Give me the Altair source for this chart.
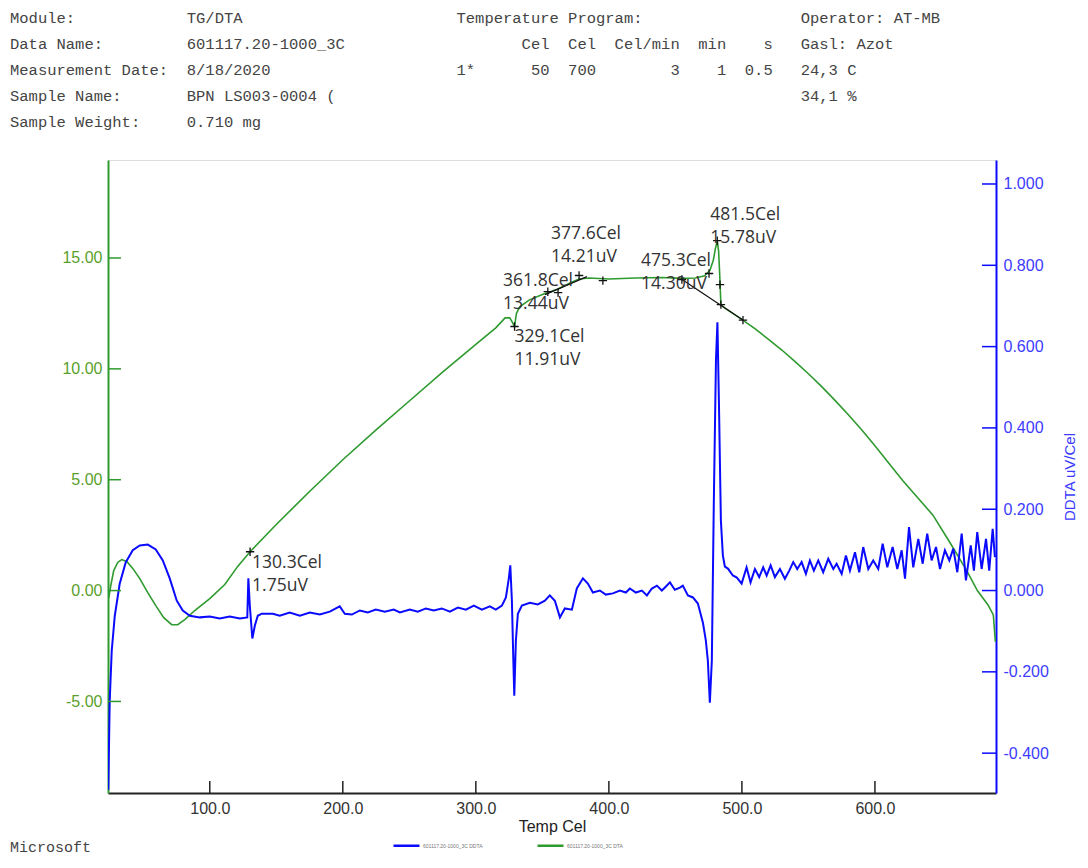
import altair as alt
import pandas as pd

# ---------------- data ----------------
T_DTA = [24.1, 25.6, 27.8, 30.8, 33.8, 37.6, 42.1, 47.4, 53.4, 59.4, 65.4, 71.4, 75.9, 81.2, 88.7,
         100.0, 111.3, 121.0, 130.3, 150, 175, 200, 225, 250, 275, 300, 315, 322, 325.5, 327.5,
         329.1, 330.5, 333, 340, 350, 361.8, 370, 377.6, 385, 400, 420, 440, 455, 465, 472, 476,
         478.5, 480, 481.5, 482.5, 483.5, 484.2, 487, 492, 500.7, 510, 520, 530, 540, 550, 560,
         570, 580, 590, 600, 610, 621, 632, 643.6, 656, 669, 677, 685, 689, 690.5]
V_DTA = [-0.32, 0.23, 0.90, 1.27, 1.40, 1.31, 1.00, 0.54, -0.09, -0.68, -1.22, -1.54, -1.54, -1.31, -0.90,
         -0.36, 0.27, 1.09, 1.75, 2.98, 4.47, 5.9, 7.25, 8.55, 9.85, 11.1, 11.85, 12.3, 12.3, 12.1,
         11.91, 12.5, 12.8, 13.1, 13.35, 13.6, 13.85, 14.05, 14.1, 14.05, 14.1, 14.12, 14.08, 14.1, 14.2, 14.45,
         14.9, 15.4, 15.78, 15.3, 14.0, 12.9, 12.75, 12.55, 12.2, 11.8, 11.33, 10.85, 10.33, 9.78, 9.2,
         8.58, 7.93, 7.25, 6.53, 5.78, 4.95, 4.2, 3.4, 2.2, 0.9, 0.0, -0.65, -1.1, -2.3]

T_DDTA = [23.7, 24.8, 26.3, 28.6, 32.3, 36.8, 42.1, 47.4, 53.4, 59.4, 64.7, 69.9, 75.2, 79.7, 85.0,
          92.5, 100.0, 107.5, 115.0, 122.6, 128.2, 129.0, 130.1, 132.0, 133.9, 136.1, 139.1, 147.4,
          152.6, 160.1, 167.7, 175.2, 182.7, 190.2, 197.7, 201.5, 206.8, 212.8, 218.8, 224.8, 231.6,
          238.3, 242.9, 250.4, 256.4, 262.4, 268.4, 274.4, 280.5, 286.5, 292.5, 298.5, 304.5, 310.5,
          315.0, 319.6, 322.6, 324.8, 325.9, 327.1, 328.2, 328.9, 330.1, 331.6, 334.6, 340.6, 346.6,
          351.9, 355.6, 359.4, 363.2, 366.9, 372.2, 375.9, 380.5, 384.2, 388.0, 393.2, 397.7, 403.0,
          408.3, 412.8, 415.8, 420.3, 424.8, 428.6, 432.3, 436.1, 439.8, 442.9, 445.9, 449.6, 453.4,
          455.6, 459.4, 463.2, 466.9, 470.7, 472.9, 474.4, 475.9, 477.4, 478.9, 480.5, 481.6, 482.7,
          484.2, 485.7, 487.2, 489.5, 493.2, 496.2,
          499.8, 503.5, 506.5, 509.8, 513.0, 516.0, 518.6, 521.6, 524.8, 528.6, 532.3, 535.6, 538.6,
          541.6, 544.9, 548.1, 551.1, 554.1, 557.4, 561.1, 564.9, 568.7, 571.2, 575.0, 578.2, 581.2,
          585.0, 588.2, 591.2, 595.0, 598.7, 602.5, 605.8, 609.3, 613.3, 616.8, 620.1, 622.6, 625.6,
          628.8, 632.6, 635.9, 639.3, 642.6, 645.9, 648.9, 652.6, 655.9, 658.9, 661.9, 665.2, 668.4,
          672.0, 674.4, 676.9, 680.2, 683.5, 685.9, 688.5, 690.2]
V_DDTA = [-0.490, -0.270, -0.148, -0.062, 0.017, 0.069, 0.099, 0.111, 0.113, 0.101, 0.074, 0.030, -0.025, -0.049, -0.062,
          -0.066, -0.064, -0.069, -0.064, -0.069, -0.066, 0.030, -0.037, -0.118, -0.086, -0.062, -0.057, -0.057,
          -0.062, -0.054, -0.062, -0.054, -0.059, -0.052, -0.039, -0.057, -0.059, -0.049, -0.054, -0.047, -0.052,
          -0.047, -0.054, -0.047, -0.052, -0.044, -0.049, -0.044, -0.052, -0.042, -0.047, -0.037, -0.047, -0.039,
          -0.047, -0.037, -0.017, 0.030, 0.062, -0.025, -0.172, -0.259, -0.123, -0.057, -0.037, -0.030, -0.034,
          -0.025, -0.012, -0.025, -0.066, -0.044, -0.047, 0.005, 0.030, 0.017, -0.005, 0.000, -0.010, -0.007,
          0.000, -0.005, 0.005, -0.005, 0.000, -0.012, 0.005, 0.012, 0.000, 0.010, 0.020, 0.002, 0.007,
          0.012, -0.012, -0.017, -0.032, -0.079, -0.123, -0.172, -0.276, -0.172, 0.222, 0.567, 0.660, 0.468,
          0.172, 0.086, 0.059, 0.054, 0.037, 0.032,
          0.017, 0.057, 0.020, 0.053, 0.033, 0.057, 0.037, 0.062, 0.033, 0.053, 0.029, 0.049, 0.070,
          0.053, 0.070, 0.041, 0.074, 0.049, 0.074, 0.045, 0.078, 0.053, 0.066, 0.041, 0.086, 0.049,
          0.094, 0.045, 0.107, 0.053, 0.074, 0.053, 0.115, 0.057, 0.107, 0.053, 0.099, 0.029, 0.156,
          0.057, 0.127, 0.066, 0.140, 0.074, 0.107, 0.053, 0.099, 0.074, 0.103, 0.045, 0.140, 0.025,
          0.111, 0.049, 0.144, 0.053, 0.127, 0.049, 0.152, 0.082]

# annotated points (DTA)
ANN_T = [130.3, 329.1, 361.8, 377.6, 475.3, 481.5]
ANN_V = [1.75, 11.91, 13.44, 14.21, 14.30, 15.78]
# label offsets (pixels) of first line relative to point
ANN_DX = [2, 0, -55, -28, -68, -7]
ANN_DY = [11, 10, -12, -42, -13, -26]

# analysis cross markers (DTA)
MK_T = [130.3, 329.1, 354.1, 361.8, 377.6, 395.5, 454.9, 475.3, 481.5, 483.5, 484.2, 500.8]
MK_V = [1.75, 11.91, 13.48, 13.44, 14.21, 13.98, 14.03, 14.30, 15.78, 13.8, 12.9, 12.2]

# baseline/tangent construction lines
BASE_SEG = ["A", "A", "B", "B"]
BASE_T = [352.0, 383.5, 455.0, 500.8]
BASE_V = [13.35, 14.16, 14.03, 12.2]

X_TICKS = [100, 200, 300, 400, 500, 600]
DTA_TICKS = [-5, 0, 5, 10, 15]
DDTA_TICKS = [-0.4, -0.2, 0.0, 0.2, 0.4, 0.6, 0.8, 1.0]

LEG_DDTA = "601117.20-1000_3C  DDTA"
LEG_DTA = "601117.20-1000_3C  DTA"

HEADER = [
    ("Module:", "TG/DTA", "Temperature Program:", "Operator: AT-MB"),
    ("Data Name:", "601117.20-1000_3C", "       Cel  Cel  Cel/min  min    s", "Gasl: Azot"),
    ("Measurement Date:", "8/18/2020", "1*      50  700        3    1  0.5", "24,3 C"),
    ("Sample Name:", "BPN LS003-0004 (", "", "34,1 %"),
    ("Sample Weight:", "0.710 mg", "", ""),
]
FOOTER = "Microsoft"

# ---------------- styles ----------------
W, H = 888, 633
GREEN = "#2f9a2f"
BLUE = "#0a0aff"
GREEN_LBL = "#5a9f2c"
BLUE_LBL = "#3c3cff"
SANS = "Liberation Sans"
MONO = "Liberation Mono"
HEADER_Y = [-142, -116, -90, -64, -38]

x_scale = alt.Scale(domain=[23.5, 691], nice=False, zero=False)
y_dta = alt.Scale(domain=[-9.13, 19.42], nice=False, zero=False)
y_ddta = alt.Scale(domain=[-0.498, 1.059], nice=False, zero=False)
color_scale = alt.Scale(domain=[LEG_DDTA, LEG_DTA], range=[BLUE, GREEN])

dta_df = pd.DataFrame({"T": T_DTA, "V": V_DTA, "series": LEG_DTA})
ddta_df = pd.DataFrame({"T": T_DDTA, "V": V_DDTA, "series": LEG_DDTA})

x_axis = alt.Axis(values=X_TICKS, format=".1f", title="Temp Cel", ticks=False, grid=False,
                  domainColor="#222222", domainWidth=2, labelFont=SANS, labelFontSize=16,
                  labelColor="#333333", labelPadding=7, titleFont=SANS, titleFontSize=16,
                  titleFontWeight="normal", titleColor="#222222", titlePadding=2)
X = alt.X("T:Q", scale=x_scale, axis=x_axis)

left_axis = alt.Axis(values=DTA_TICKS, title=None, ticks=False, grid=False, orient="left",
                     labelExpr="(datum.value < 0 ? '-' : '') + format(abs(datum.value), '.2f')",
                     domainColor=GREEN, domainWidth=2, labelFont=SANS, labelFontSize=16,
                     labelColor=GREEN_LBL, labelPadding=6)
right_axis = alt.Axis(values=DDTA_TICKS, title="DDTA uV/Cel", ticks=False, grid=False, orient="right",
                      labelExpr="(datum.value < 0 ? '-' : '') + format(abs(datum.value), '.3f')",
                      domainColor=BLUE, domainWidth=2, labelFont=SANS, labelFontSize=16,
                      labelColor=BLUE_LBL, labelPadding=7, titleFont=SANS, titleFontSize=15,
                      titleFontWeight="normal", titleColor=BLUE_LBL, titleAngle=270, titlePadding=29)

legend = alt.Legend(orient="none", legendX=284, legendY=671, direction="horizontal", title=None,
                    symbolType="stroke", symbolStrokeWidth=2.5, symbolSize=676,
                    labelFont=SANS, labelFontSize=5, labelColor="#777777",
                    columnPadding=48, padding=0, labelOffset=2)

green_line = alt.Chart(dta_df).mark_line(strokeWidth=1.6, clip=True).encode(
    x=X,
    y=alt.Y("V:Q", scale=y_dta, axis=left_axis),
    color=alt.Color("series:N", scale=color_scale, legend=legend),
)
blue_line = alt.Chart(ddta_df).mark_line(strokeWidth=2, clip=True).encode(
    x=X,
    y=alt.Y("V:Q", scale=y_ddta, axis=right_axis),
    color=alt.Color("series:N", scale=color_scale, legend=legend),
)

base_df = pd.DataFrame({"seg": BASE_SEG, "T": BASE_T, "V": BASE_V})
base_lines = alt.Chart(base_df).mark_line(color="#111111", strokeWidth=1.2).encode(
    x=X,
    y=alt.Y("V:Q", scale=y_dta, axis=None),
    detail="seg:N",
)

mk_df = pd.DataFrame({"T": MK_T, "V": MK_V})
markers = alt.Chart(mk_df).mark_point(shape="M-1,0L1,0M0,-1L0,1", size=70, filled=False,
                                      color="#111111", strokeWidth=1.3, opacity=1).encode(
    x=X,
    y=alt.Y("V:Q", scale=y_dta, axis=None),
)

ann_layers = []
for t, v, dx, dy in zip(ANN_T, ANN_V, ANN_DX, ANN_DY):
    adf = pd.DataFrame({"T": [t], "V": [v], "l1": [f"{t:.1f}Cel"], "l2": [f"{v:.2f}uV"]})
    for field, extra in (("l1", 0), ("l2", 23)):
        ann_layers.append(
            alt.Chart(adf).mark_text(align="left", baseline="middle", dx=dx, dy=dy + extra,
                                     font="Open Sans", fontSize=17.5, color="#333333").encode(
                x=X,
                y=alt.Y("V:Q", scale=y_dta, axis=None),
                text=f"{field}:N",
            )
        )

x_ticks = alt.Chart(pd.DataFrame({"T": X_TICKS})).mark_rule(color="#222222", strokeWidth=1.5).encode(
    x=X, y=alt.value(H), y2=alt.value(H - 12))
l_ticks = alt.Chart(pd.DataFrame({"V": DTA_TICKS})).mark_rule(color=GREEN, strokeWidth=1.5).encode(
    y=alt.Y("V:Q", scale=y_dta, axis=None), x=alt.value(0), x2=alt.value(13))
r_ticks = alt.Chart(pd.DataFrame({"V": DDTA_TICKS})).mark_rule(color=BLUE, strokeWidth=1.5).encode(
    y=alt.Y("V:Q", scale=y_ddta, axis=None), x=alt.value(W - 14), x2=alt.value(W + 1))

def nb(s):
    return s.replace(" ", "\u00a0")

text_layers = []
for yv, (a, b, c, d) in zip(HEADER_Y, HEADER):
    row = a.ljust(19) + b.ljust(29) + c.ljust(37) + d
    text_layers.append(
        alt.Chart(alt.Data(values=[{}])).mark_text(align="left", baseline="middle", font=MONO,
                                                   fontSize=15.5, color="#444444").encode(
            x=alt.value(-98), y=alt.value(yv), text=alt.value(nb(row.rstrip())))
    )
text_layers.append(
    alt.Chart(alt.Data(values=[{}])).mark_text(align="left", baseline="middle", font=MONO,
                                               fontSize=15, color="#444444").encode(
        x=alt.value(-98), y=alt.value(687), text=alt.value(FOOTER))
)

chart = alt.layer(
    green_line, blue_line, base_lines, markers, x_ticks, l_ticks, r_ticks, *ann_layers, *text_layers
).resolve_scale(y="independent").properties(
    width=W, height=H,
    padding={"left": 100, "top": 152, "right": 84, "bottom": 66},
    autosize=alt.AutoSizeParams(type="none"),
).configure_view(stroke="#333333", strokeWidth=2).configure(background="white")

chart.save("out.html", embed_options={"renderer": "svg", "actions": False})
